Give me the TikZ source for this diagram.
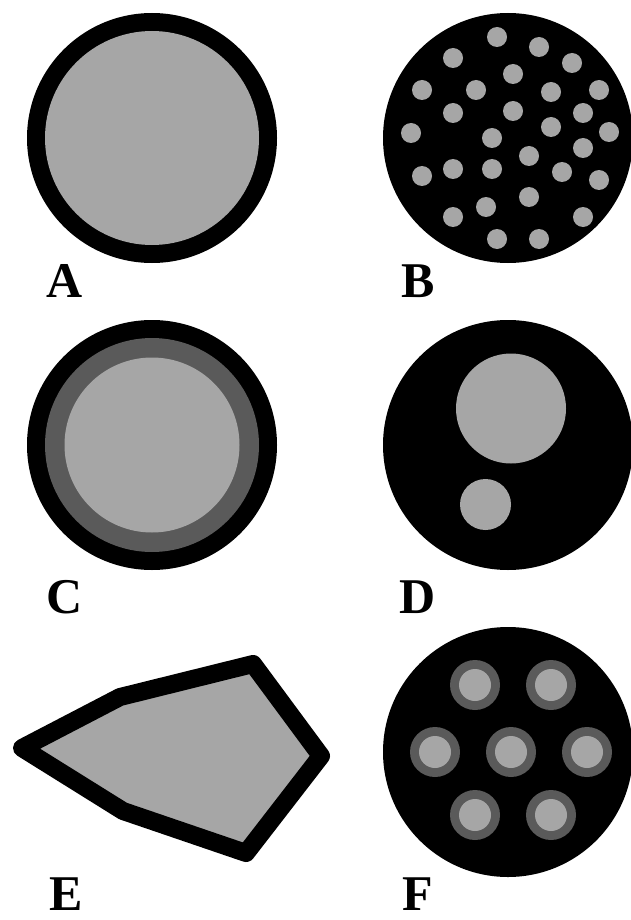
\documentclass[tikz,border=0pt]{standalone}
\usepackage{fontspec}
\setmainfont{Liberation Serif}
\definecolor{pale}{RGB}{166,166,166}
\definecolor{dim}{RGB}{90,90,90}

\begin{document}
\begin{tikzpicture}[x=1pt,y=-1pt,
  lab/.style={font=\fontsize{50}{50}\selectfont\bfseries, inner sep=0pt, anchor=center}]
\useasboundingbox (0,0) rectangle (630,920);

% A
\coordinate (A) at (152,138);
\fill [black] (A) circle (125);
\fill [pale] (A) circle (107);
\node [lab] (labA) at (65,281) {A};

% B
\coordinate (B) at (508,138);
\fill [black] (B) circle (125);
\foreach \x/\y in {497/37, 539/47, 453/58, 572/63, 513/74, 422/90, 476/90,
  551/92, 599/90, 453/113, 513/111, 583/113, 411/133, 551/127, 609/132,
  492/138, 583/148, 529/156, 422/176, 453/169, 492/169, 562/172, 599/180,
  529/197, 486/207, 453/217, 583/217, 497/239, 539/239}
  \fill [pale] (\x,\y) circle (10);
\node [lab] (labB) at (418,281) {B};

% C
\coordinate (C) at (152,445);
\fill [black] (C) circle (125);
\fill [dim] (C) circle (107);
\fill [pale] (C) circle (87.5);
\node [lab] (labC) at (65,597) {C};

% D
\coordinate (D) at (508,445);
\fill [black] (D) circle (125);
\fill [pale] (511,408.5) circle (55);
\fill [pale] (485.5,504.5) circle (25.5);
\node [lab] (labD) at (418,597) {D};

% E
\coordinate (E1) at (22,748);
\coordinate (E2) at (120,697);
\coordinate (E3) at (253,664);
\coordinate (E4) at (321,756);
\coordinate (E5) at (246,853);
\coordinate (E6) at (123,811);
\draw [line width=18pt, line join=round, fill=pale]
  (E1)--(E2)--(E3)--(E4)--(E5)--(E6)--cycle;
\node [lab] (labE) at (66,894) {E};

% F
\coordinate (F) at (508,752);
\fill [black] (F) circle (125);
\foreach \x/\y in {475/685, 551/685, 435/752, 511/752, 587/752, 475/815, 551/815}{
  \fill [dim] (\x,\y) circle (25);
  \fill [pale] (\x,\y) circle (16);
}
\node [lab] (labF) at (418,894) {F};

\end{tikzpicture}
\end{document}
